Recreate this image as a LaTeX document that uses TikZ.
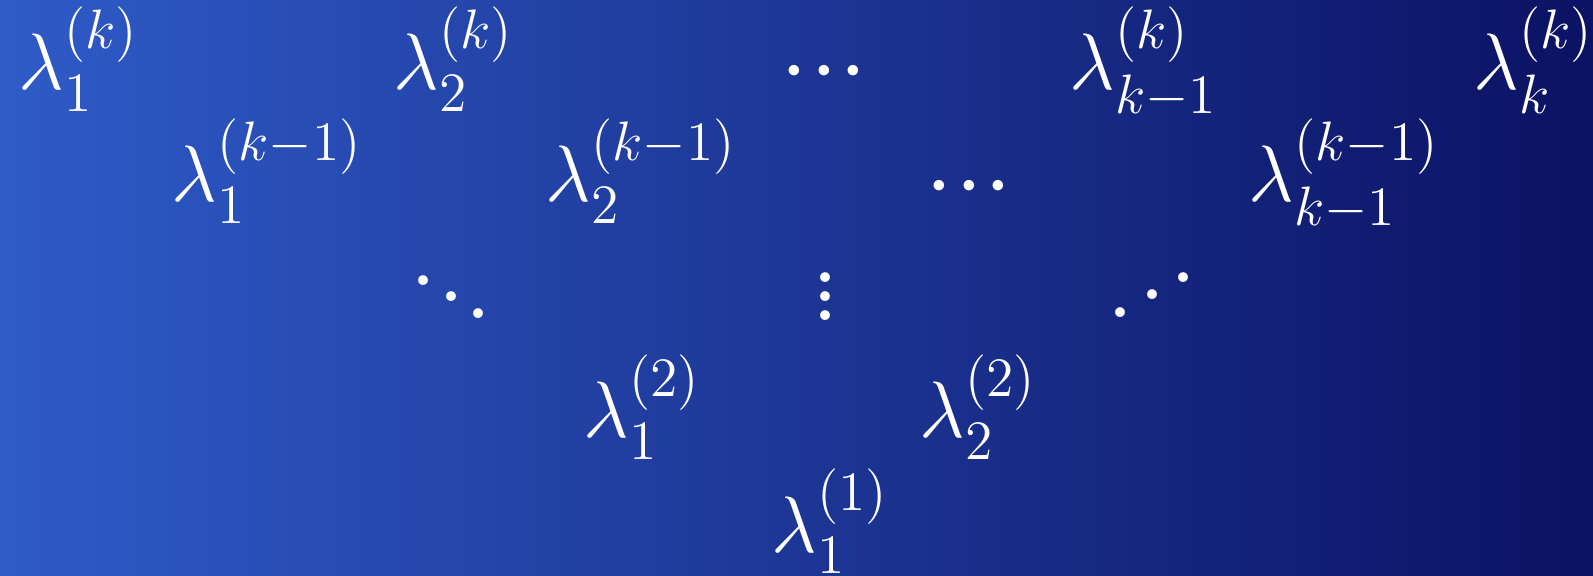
\documentclass[tikz,border=0pt]{standalone}
\usepackage{amsmath}
\usepackage{graphicx}
\definecolor{bgleft}{RGB}{47,91,200}
\definecolor{bgright}{RGB}{11,18,99}
\newcommand\mycdots{\hbox{$\cdot$\kern0.5pt$\cdot$\kern0.5pt$\cdot$}}
\newcommand\myddots{\hbox{\raise8.3pt\hbox{.}\kern-0.6pt\raise4.2pt\hbox{.}\kern-0.6pt\raise0pt\hbox{.}}}
\newcommand\myiddots{\hbox{\raise0pt\hbox{.}\kern0.4pt\raise4.3pt\hbox{.}\kern0.4pt\raise8.6pt\hbox{.}}}
\newcommand\myvdots{\vbox{\offinterlineskip\hbox{.}\kern2.3pt\hbox{.}\kern2.3pt\hbox{.}}}
\newcommand\lab[1]{\scalebox{0.965}{\huge$#1$}}
\begin{document}
\begin{tikzpicture}[x=0.25pt,y=-0.25pt,
  lab/.style={inner sep=0pt,anchor=base west,text=white},
  dts/.style={inner sep=0pt,anchor=center,text=white,font=\fontsize{30}{36}\selectfont}]
\shade[left color=bgleft,right color=bgright] (0,0) rectangle (1593,576);
\useasboundingbox (0,0) rectangle (1593,576);
% row 1
\node[lab] (a1) at (18,90) {\lab{\lambda_1^{(k)}}};
\node[lab] (a2) at (393,90) {\lab{\lambda_2^{(k)}}};
\node[dts] (a3) at (824,73) {\mycdots};
\node[lab] (a4) at (1069,90) {\lab{\lambda_{k-1}^{(k)}}};
\node[lab] (a5) at (1473,90) {\lab{\lambda_k^{(k)}}};
% row 2
\node[lab] (b1) at (171,202) {\lab{\lambda_1^{(k-1)}}};
\node[lab] (b2) at (545,202) {\lab{\lambda_2^{(k-1)}}};
\node[dts] (b3) at (969,188) {\mycdots};
\node[lab] (b4) at (1248,202) {\lab{\lambda_{k-1}^{(k-1)}}};
% row 3
\node[dts] (c1) at (451,297) {\myddots};
\node[dts] (c2) at (825,297) {\myvdots};
\node[dts] (c3) at (1152,295) {\myiddots};
% row 4
\node[lab] (d1) at (583,438) {\lab{\lambda_1^{(2)}}};
\node[lab] (d2) at (919,438) {\lab{\lambda_2^{(2)}}};
% row 5
\node[lab] (e1) at (771,552) {\lab{\lambda_1^{(1)}}};
\end{tikzpicture}
\end{document}
